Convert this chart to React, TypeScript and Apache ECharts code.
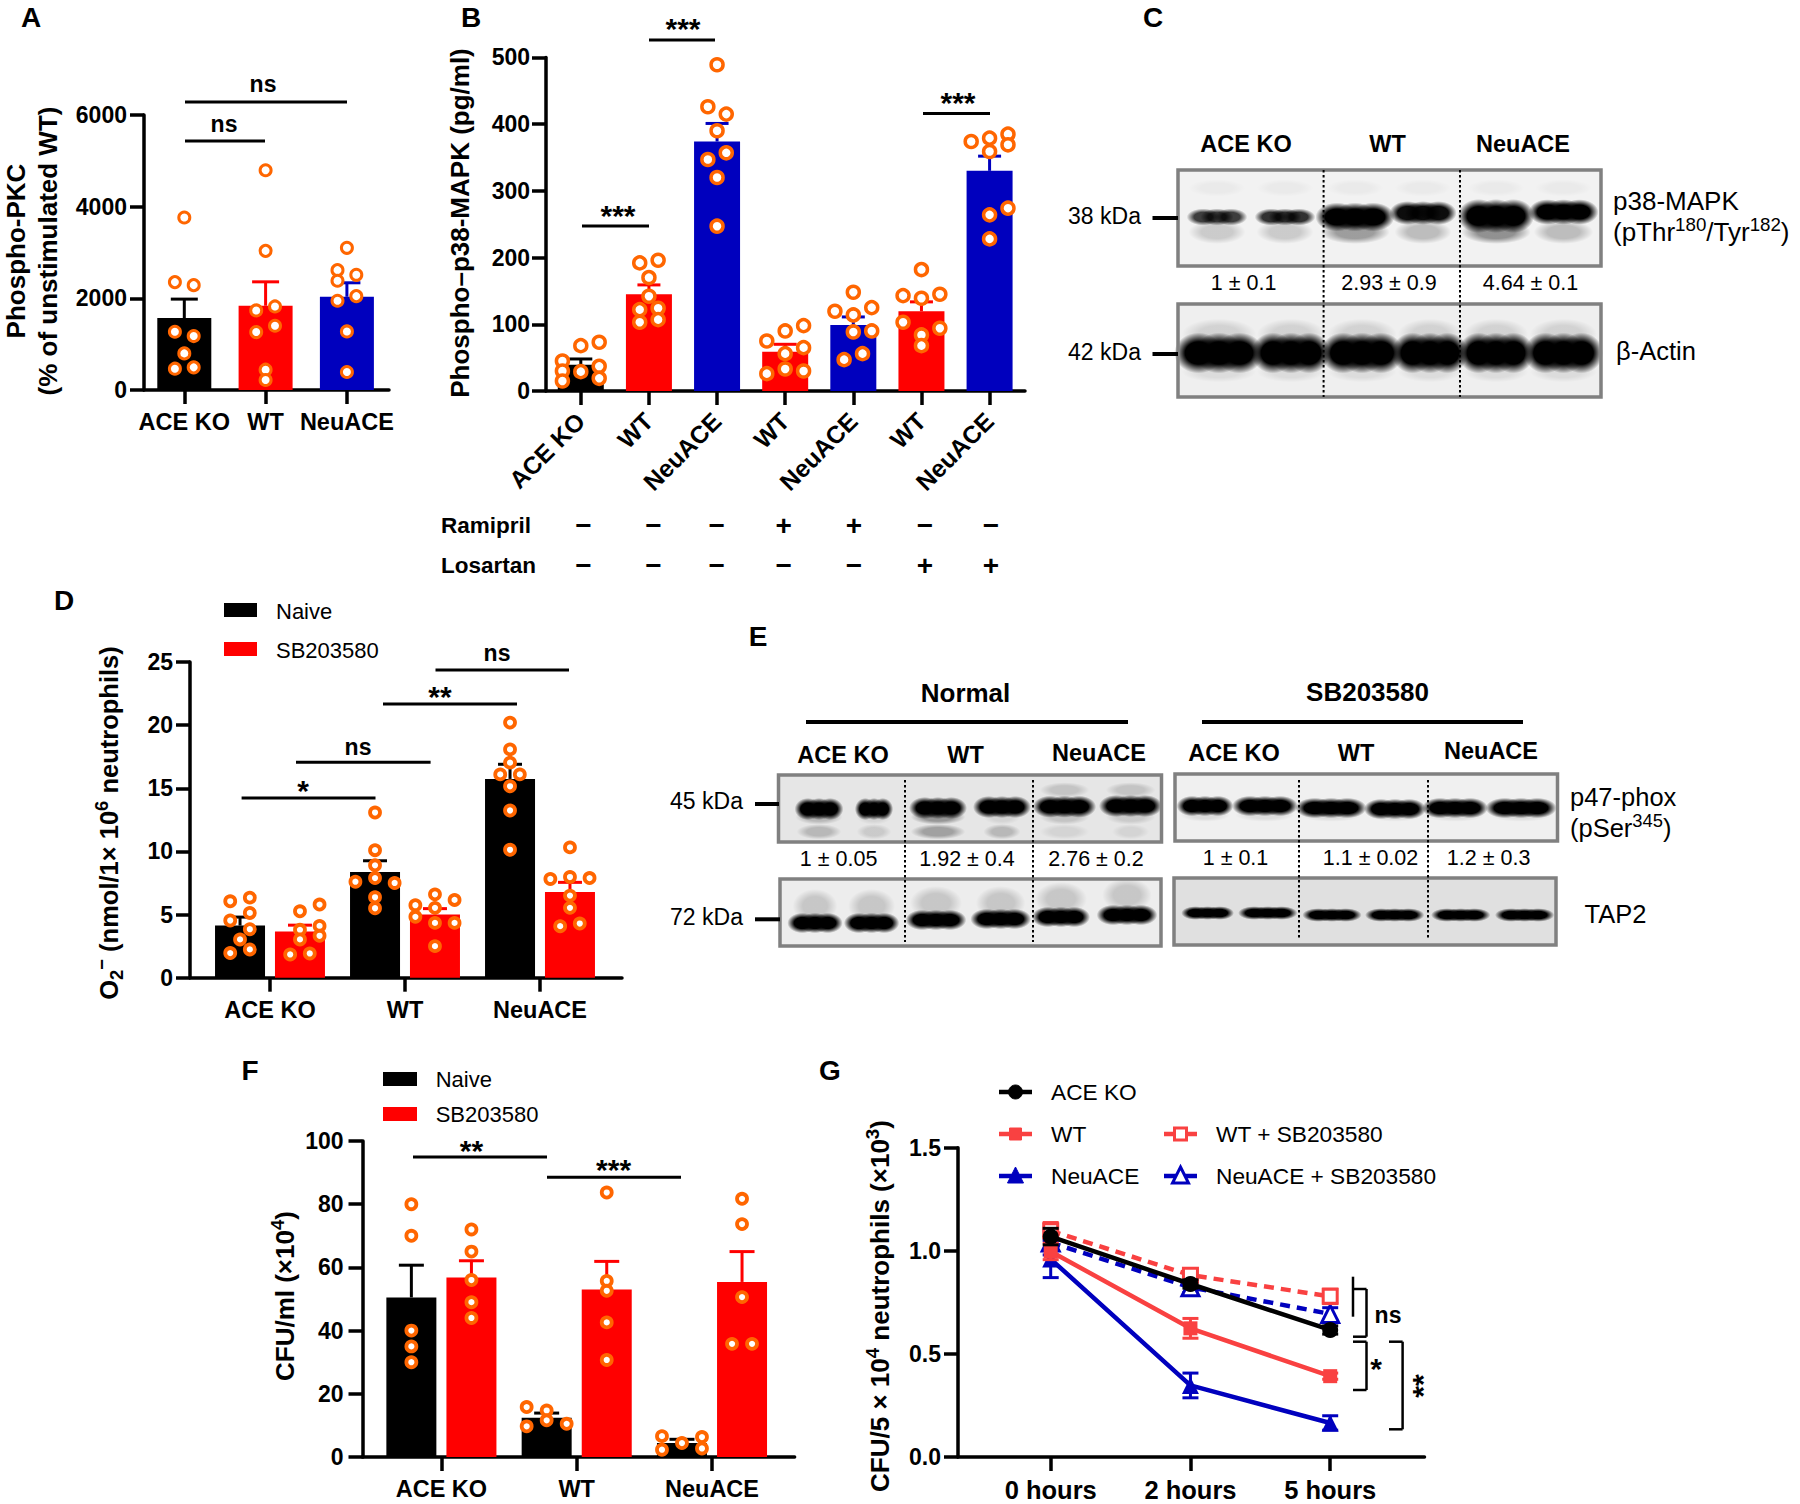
import React, { useEffect, useRef } from "react";
import * as echarts from "echarts";

const FONT = '"Liberation Sans", Arial, sans-serif';
const BLACK = "#000000";
const RED = "#FF0000";
const BLUE = "#0000BE";
const ORANGE = "#FF6600";
const CORAL = "#F94141";

const genotypes = ["ACE KO", "WT", "NeuACE"];

// Panel A
const aMeans = [1569, 1838, 2034];
const aTops = [1983, 2360, 2339];
const aPoints = [
  [3763, 2354, 2288, 1271, 1177, 799, 465, 494],
  [4794, 3036, 1736, 1823, 1402, 1264, 443, 218],
  [3102, 2615, 2513, 2383, 2048, 1947, 1278, 392],
];
const aLanes = [
  [0, -1, 1, -1, 1, 0, -1, 1],
  [0, 0, -1, 1, 1, -1, 0, 0],
  [0, -1, 1, -1, 1, -1, 0, 0],
];

// Panel B
const bCategories = ["ACE KO", "WT", "NeuACE", "WT", "NeuACE", "WT", "NeuACE"];
const bMeans = [39.5, 145, 374, 59, 99, 119.5, 330];
const bTops = [48, 159, 401, 70, 111, 133.6, 352];
const bPoints = [
  [68, 73, 45, 30, 15, 29, 37, 19],
  [196, 192, 170, 142, 122, 124, 103, 107],
  [489, 426, 415, 390, 357, 347, 320, 247],
  [75, 90, 98, 65, 56, 33, 30, 26],
  [148, 119.5, 125, 114, 88.5, 90, 56, 47],
  [182, 143, 139, 145, 103, 94, 84, 68],
  [385, 379, 374, 369, 359, 274, 264, 228],
];
const bLanes = [
  [0, 2, -2, -2, -2, 0, 2, 2],
  [1, -1, 0, 0, -1, 1, -1, 1],
  [0, -1, 1, 0, 1, -1, 0, 0],
  [-2, 0, 2, 2, 0, 0, 2, -2],
  [0, -2, 2, 0, 0, 2, 1, -1],
  [0, -2, 0, 2, -2, 2, 0, 0],
  [2, 0, -2, 2, 0, 2, 0, 0],
];
const ramipril = ["−", "−", "−", "+", "+", "−", "−"];
const losartan = ["−", "−", "−", "−", "−", "+", "+"];

// Panel D
const dMeans = [4.13, 3.66, 8.37, 5.0, 15.74, 6.79];
const dTops = [4.8, 4.16, 9.26, 5.47, 16.9, 7.55];
const dPoints = [
  [6.05, 6.34, 5.13, 4.53, 3.84, 3.03, 2.24, 1.95],
  [5.79, 5.26, 4.1, 3.79, 3.32, 3.03, 1.92, 1.84],
  [13.08, 10.1, 8.9, 7.89, 7.6, 7.5, 6.37, 5.5],
  [6.6, 6.16, 5.74, 5.53, 4.82, 4.34, 4.34, 2.5],
  [20.2, 18.08, 17.03, 16.1, 16.1, 15.16, 13.24, 10.13],
  [10.32, 7.82, 7.97, 7.89, 6.5, 5.53, 4.08, 4.29],
];
const dLanes = [
  [-1, 1, 1, -1, 1, 0, 1, -1],
  [2, 0, 2, 0, 2, 0, 1, -1],
  [0, 0, 0, 0, -2, 2, 0, 0],
  [0, 2, -2, 0, -2, 0, 2, 0],
  [0, 0, 0, -1, 1, 0, 0, 0],
  [0, -2, 0, 2, 0, 0, -1, 1],
];

// Panel F
const fMeans = [50.5, 56.8, 12.4, 53, 4.4, 55.4];
const fTops = [60.7, 62.1, 13.9, 61.9, 5.6, 65];
const fPoints = [
  [80, 70, 40, 35, 30],
  [72, 65, 56, 49, 44],
  [15.8, 14.7, 11.6, 9.7, 10.5],
  [83.7, 55.7, 52.6, 42.6, 30.7],
  [6.6, 6.3, 4.4, 2.3, 2.7],
  [81.7, 73.7, 50.6, 35.8, 35.8],
];
const fLanes = [
  [0, 0, 0, 0, 0],
  [0, 0, 0, 0, 0],
  [-2, 0, 0, -2, 2],
  [0, 0, 0, 0, 0],
  [-2, 2, 0, -2, 2],
  [0, 0, 0, -1, 1],
];

// Panel G
const hours = ["0 hours", "2 hours", "5 hours"];
const gWtSb = [1.097, 0.882, 0.779];
const gWtSbErr = [0.04, 0.03, 0.035];
const gNeuSb = [1.04, 0.823, 0.694];
const gNeuSbErr = [0.06, 0.025, 0.03];
const gWt = [0.997, 0.624, 0.392];
const gWtErr = [0.04, 0.048, 0.015];
const gNeu = [0.96, 0.347, 0.165];
const gNeuErr = [0.09, 0.06, 0.035];
const gAce = [1.069, 0.839, 0.616];
const gAceErr = [0.04, 0.02, 0.02];

const option: any = { animation: false, grid: [], xAxis: [], yAxis: [], series: [], graphic: { elements: [] } };
const els: any[] = option.graphic.elements;

function addAxes(c: any) {
  const idx = option.grid.length;
  option.grid.push({ left: c.L, top: c.T, width: c.R - c.L, height: c.B - c.T });
  const ticks = c.labels.map((_: string, i: number) => i);
  option.xAxis.push({
    type: "value",
    gridIndex: idx,
    min: (c.L - c.c0) / c.step,
    max: (c.R - c.c0) / c.step,
    splitLine: { show: false },
    axisLine: { show: true, onZero: false, lineStyle: { color: "#000", width: 3.5 } },
    axisTick: { show: true, customValues: ticks, length: 14, lineStyle: { color: "#000", width: 3.5 } },
    axisLabel: {
      show: true,
      customValues: ticks,
      formatter: (v: number) => c.labels[Math.round(v)],
      margin: c.xMargin ?? 20,
      rotate: c.rotate ?? 0,
      fontFamily: FONT,
      fontWeight: "bold",
      fontSize: c.xSize ?? 23.5,
      color: "#000",
    },
  });
  option.yAxis.push({
    type: "value",
    gridIndex: idx,
    min: 0,
    max: c.yMax,
    interval: c.yStep,
    splitLine: { show: false },
    axisLine: { show: true, onZero: false, lineStyle: { color: "#000", width: 3.5 } },
    axisTick: { show: true, length: 14, lineStyle: { color: "#000", width: 3.5 } },
    axisLabel: {
      margin: c.yMargin ?? 17,
      fontFamily: FONT,
      fontWeight: "bold",
      fontSize: 23,
      color: "#000",
      formatter: c.yFormat ?? ((v: number) => String(v)),
    },
  });
  return idx;
}

function errSeries(idx: number, rows: number[][], colors: string[], cap: number, z: number, width = 3) {
  return {
    type: "custom",
    xAxisIndex: idx,
    yAxisIndex: idx,
    z,
    clip: false,
    data: rows,
    encode: { x: 0, y: [1, 2] },
    renderItem: (p: any, api: any) => {
      const [x, yHi] = api.coord([api.value(0), api.value(1)]);
      const [, yLo] = api.coord([api.value(0), api.value(2)]);
      const stroke = colors[p.dataIndex];
      const style = { stroke, lineWidth: width, fill: "none" };
      const kids: any[] = [
        { type: "line", shape: { x1: x, y1: yHi, x2: x, y2: yLo }, style },
        { type: "line", shape: { x1: x - cap / 2, y1: yHi, x2: x + cap / 2, y2: yHi }, style },
      ];
      if (api.value(3)) kids.push({ type: "line", shape: { x1: x - cap / 2, y1: yLo, x2: x + cap / 2, y2: yLo }, style });
      return { type: "group", children: kids };
    },
  };
}

function barPanel(c: any) {
  const idx = addAxes(c);
  option.series.push({
    type: "bar",
    xAxisIndex: idx,
    yAxisIndex: idx,
    barWidth: c.barW,
    z: 2,
    data: c.means.map((m: number, i: number) => ({ value: [c.pos[i], m], itemStyle: { color: c.colors[i] } })),
  });
  option.series.push(
    errSeries(idx, c.means.map((m: number, i: number) => [c.pos[i], c.tops[i], m, 0]), c.colors, c.cap, 3)
  );
  const pts: number[][] = [];
  c.points.forEach((vals: number[], i: number) =>
    vals.forEach((v, j) => pts.push([c.pos[i] + (c.lanes[i][j] * c.lane) / c.step, v]))
  );
  option.series.push({
    type: "scatter",
    xAxisIndex: idx,
    yAxisIndex: idx,
    z: 4,
    symbol: "circle",
    symbolSize: c.ptSize,
    itemStyle: { color: "#fff", borderColor: ORANGE, borderWidth: c.ptBorder, opacity: 1 },
    data: pts,
  });
}

const rot90 = Math.PI / 2;

function T(x: number, y: number, text: string, o: any = {}) {
  els.push({
    type: "text",
    x,
    y,
    rotation: o.rot || 0,
    silent: true,
    z: 100,
    style: {
      text,
      fill: "#000",
      fontFamily: FONT,
      fontSize: o.size || 23,
      fontWeight: o.bold ? "bold" : "normal",
      textAlign: o.align || "center",
      textVerticalAlign: "middle",
      verticalAlign: "middle",
      rich: o.rich,
    },
  });
}
function richSet(size: number, bold: boolean) {
  const w = bold ? "bold" : "normal";
  const base = { fontFamily: FONT, fontWeight: w, fill: "#000" };
  return {
    a: { ...base, fontSize: size, color: "#000" },
    sup: { ...base, fontSize: size * 0.72, color: "#000", verticalAlign: "top", lineHeight: size * 1.3 },
    sub: { ...base, fontSize: size * 0.72, color: "#000", verticalAlign: "bottom", lineHeight: size * 1.3 },
  };
}
function L(x1: number, y1: number, x2: number, y2: number, w = 3, o: any = {}) {
  els.push({
    type: "line",
    silent: true,
    z: o.z ?? 100,
    shape: { x1, y1, x2, y2 },
    style: { stroke: o.color || "#000", lineWidth: w, lineDash: o.dash },
  });
}
function R(x: number, y: number, w: number, h: number, fill: string) {
  els.push({ type: "rect", silent: true, z: 100, shape: { x, y, width: w, height: h }, style: { fill } });
}
function stars(x: number, y: number, s: string, o: any = {}) {
  T(x, y, s, { bold: true, size: 30, ...o });
}

// ---- charts ----
barPanel({
  L: 144, R: 389, T: 115, B: 390, c0: 184.3, step: 81.3, labels: genotypes, yMax: 6000, yStep: 2000,
  means: aMeans, tops: aTops, points: aPoints, lanes: aLanes, lane: 9.4, pos: [0, 1, 2],
  colors: [BLACK, RED, BLUE], barW: 54, cap: 27, ptSize: 11, ptBorder: 3,
});
barPanel({
  L: 546, R: 1025, T: 57.4, B: 391, c0: 580.8, step: 68.13, labels: bCategories, yMax: 500, yStep: 100,
  means: bMeans, tops: bTops, points: bPoints, lanes: bLanes, lane: 9.2, pos: [0, 1, 2, 3, 4, 5, 6],
  colors: [BLACK, RED, BLUE, RED, BLUE, RED, BLUE], barW: 46, cap: 23, ptSize: 12, ptBorder: 3.5,
  rotate: 45, xMargin: 26, yMargin: 16, xSize: 24.5,
});
const twoPos = [-0.222, 0.222, 0.778, 1.222, 1.778, 2.222];
const twoCol = [BLACK, RED, BLACK, RED, BLACK, RED];
barPanel({
  L: 190, R: 622, T: 662, B: 977.7, c0: 270, step: 135, labels: genotypes, yMax: 25, yStep: 5,
  means: dMeans, tops: dTops, points: dPoints, lanes: dLanes, lane: 9.8, pos: twoPos,
  colors: twoCol, barW: 50, cap: 24, ptSize: 10, ptBorder: 3.8,
});
barPanel({
  L: 362.5, R: 794.6, T: 1141, B: 1457, c0: 441.4, step: 135.3, labels: genotypes, yMax: 100, yStep: 20,
  means: fMeans, tops: fTops, points: fPoints, lanes: fLanes, lane: 10, pos: twoPos,
  colors: twoCol, barW: 50, cap: 25, ptSize: 10, ptBorder: 3.8, yMargin: 19,
});

// Panel G
{
  const g = addAxes({
    L: 958, R: 1424.5, T: 1147.7, B: 1457, c0: 1050.7, step: 139.75, labels: hours, yMax: 1.5, yStep: 0.5,
    xSize: 25.5, yFormat: (v: number) => v.toFixed(1),
  });
  const lines = [
    { vals: gNeuSb, errs: gNeuSbErr, color: BLUE, dash: [10, 7], symbol: "triangle", size: 17, hollow: true },
    { vals: gWtSb, errs: gWtSbErr, color: CORAL, dash: [10, 7], symbol: "rect", size: 14, hollow: true },
    { vals: gNeu, errs: gNeuErr, color: BLUE, symbol: "triangle", size: 17 },
    { vals: gWt, errs: gWtErr, color: CORAL, symbol: "rect", size: 14 },
    { vals: gAce, errs: gAceErr, color: BLACK, symbol: "circle", size: 16 },
  ];
  lines.forEach((s: any, i: number) => {
    option.series.push(
      errSeries(g, s.vals.map((v: number, k: number) => [k, v + s.errs[k], v - s.errs[k], 1]), [s.color, s.color, s.color], 16, 3 + i * 2)
    );
    option.series.push({
      type: "line",
      xAxisIndex: g,
      yAxisIndex: g,
      z: 4 + i * 2,
      symbol: s.symbol,
      symbolSize: s.size,
      showSymbol: true,
      lineStyle: { color: s.color, width: 4.5, type: s.dash || "solid" },
      itemStyle: s.hollow
        ? { color: "#fff", borderColor: s.color, borderWidth: 3 }
        : { color: s.color, borderColor: s.color, borderWidth: 0 },
      data: s.vals.map((v: number, k: number) => [k, v]),
    });
  });
}

// ---- panel letters ----
T(31, 17, "A", { bold: true, size: 28 });
T(471, 17, "B", { bold: true, size: 28 });
T(1153, 17, "C", { bold: true, size: 28 });
T(64, 600, "D", { bold: true, size: 28 });
T(758, 636, "E", { bold: true, size: 28 });
T(250, 1070, "F", { bold: true, size: 28 });
T(830, 1070, "G", { bold: true, size: 28 });

// ---- panel A annotations ----
T(16, 251, "Phospho-PKC", { bold: true, size: 26, rot: rot90 });
T(48, 251, "(% of unstimulated WT)", { bold: true, size: 26, rot: rot90 });
L(185, 102, 347, 102);
T(263, 84, "ns", { bold: true });
L(185, 141, 265, 141);
T(224, 124, "ns", { bold: true });

// ---- panel B annotations ----
T(460, 223, "Phospho–p38-MAPK (pg/ml)", { bold: true, size: 26, rot: rot90 });
L(582, 226, 649, 226);
stars(618, 215, "***");
L(649, 40, 715, 40);
stars(683, 28, "***");
L(923, 113.5, 990, 113.5);
stars(958, 102, "***");
T(441, 525, "Ramipril", { bold: true, size: 22.5, align: "left" });
T(441, 565, "Losartan", { bold: true, size: 22.5, align: "left" });
const signX = [583.5, 653.5, 716.7, 783.7, 854, 925, 991];
signX.forEach((x, i) => {
  T(x, 525, ramipril[i], { bold: true, size: 28 });
  T(x, 565, losartan[i], { bold: true, size: 28 });
});

// ---- panel D annotations ----
T(109, 823, "{a|O}{sub|2}{sup|−}{a| (nmol/1× 10}{sup|6}{a| neutrophils)}", {
  rot: rot90, bold: true, size: 25.5, rich: richSet(25.5, true),
});
R(224, 603, 33, 14, BLACK);
R(224, 642, 33, 14, RED);
T(276, 611, "Naive", { size: 22, align: "left" });
T(276, 650, "SB203580", { size: 22, align: "left" });
L(241.6, 798, 375.5, 798);
stars(303, 790, "*");
L(296, 762.3, 430.6, 762.3);
T(358, 747, "ns", { bold: true });
L(383, 704, 517, 704);
stars(440, 696, "**");
L(435.5, 670, 569, 670);
T(497, 653, "ns", { bold: true });

// ---- panel F annotations ----
T(285, 1296, "{a|CFU/ml (×10}{sup|4}{a|)}", { rot: rot90, bold: true, size: 26, rich: richSet(26, true) });
R(383, 1072, 34, 14, BLACK);
R(383, 1107, 34, 14, RED);
T(435.7, 1079, "Naive", { size: 22, align: "left" });
T(435.7, 1114, "SB203580", { size: 22, align: "left" });
L(413, 1157, 547, 1157);
stars(471.4, 1150, "**");
L(547, 1177.3, 681, 1177.3);
stars(613.6, 1169, "***");

// ---- panel G annotations ----
T(880, 1306, "{a|CFU/5 × 10}{sup|4}{a| neutrophils (×10}{sup|3}{a|)}", {
  rot: rot90, bold: true, size: 26, rich: richSet(26, true),
});
const legendG = [
  { x: 999, y: 1092, t: "ACE KO", c: BLACK, kind: "circle" },
  { x: 999, y: 1134, t: "WT", c: CORAL, kind: "rect" },
  { x: 999, y: 1176, t: "NeuACE", c: BLUE, kind: "tri" },
  { x: 1164, y: 1134, t: "WT + SB203580", c: CORAL, kind: "rect", hollow: true },
  { x: 1164, y: 1176, t: "NeuACE + SB203580", c: BLUE, kind: "tri", hollow: true },
];
legendG.forEach((e) => {
  L(e.x, e.y, e.x + 33, e.y, 4.5, { color: e.c });
  const cx = e.x + 16.5;
  const style = e.hollow
    ? { fill: "#fff", stroke: e.c, lineWidth: 3 }
    : { fill: e.c, stroke: e.c, lineWidth: 1 };
  if (e.kind === "circle") els.push({ type: "circle", z: 101, silent: true, shape: { cx, cy: e.y, r: 7 }, style });
  if (e.kind === "rect") els.push({ type: "rect", z: 101, silent: true, shape: { x: cx - 6, y: e.y - 6, width: 12, height: 12 }, style });
  if (e.kind === "tri")
    els.push({
      type: "polygon", z: 101, silent: true,
      shape: { points: [[cx, e.y - 9], [cx + 8, e.y + 7], [cx - 8, e.y + 7]] }, style,
    });
  T(e.x + 52, e.y, e.t, { size: 22.7, align: "left" });
});
// brackets
L(1353, 1276.7, 1353, 1316.7, 2.5);
L(1353, 1289, 1366.5, 1289, 2.5);
L(1366.5, 1289, 1366.5, 1336.7, 2.5);
L(1353, 1336.7, 1366.5, 1336.7, 2.5);
T(1388, 1315, "ns", { bold: true });
L(1353, 1341.7, 1366.5, 1341.7, 2.5);
L(1366.5, 1341.7, 1366.5, 1390, 2.5);
L(1353, 1390, 1366.5, 1390, 2.5);
stars(1376, 1368, "*");
L(1389, 1341.7, 1402.6, 1341.7, 2.5);
L(1402.6, 1341.7, 1402.6, 1429.3, 2.5);
L(1389, 1429.3, 1402.6, 1429.3, 2.5);
stars(1422, 1386, "**", { rot: rot90 });

// ---- blots ----
type Band = [number, number, number, number, number];
function softEllipse(cx: number, cy: number, rx: number, ry: number, a: number) {
  const on = `rgba(0,0,0,${a})`;
  const mid = `rgba(0,0,0,${a * 0.45})`;
  els.push({
    type: "ellipse",
    silent: true,
    z: 100,
    shape: { cx, cy, rx, ry },
    style: {
      fill: {
        type: "radial", x: 0.5, y: 0.5, r: 0.5,
        colorStops: [
          { offset: 0, color: on },
          { offset: 0.55, color: on },
          { offset: 0.8, color: mid },
          { offset: 1, color: "rgba(0,0,0,0)" },
        ],
      },
    },
  });
}
function band([cx, cy, w, h, a]: Band) {
  if (a >= 0.7) {
    // flat-topped band: several overlapping blobs side by side
    [-0.3, 0, 0.3].forEach((k) => softEllipse(cx + k * w, cy, w * 0.36, h * 0.85, a));
  } else {
    softEllipse(cx, cy, w * 0.62, h * 0.85, a);
  }
}
function blot(x: number, y: number, w: number, h: number, bg: string, bands: Band[]) {
  R(x, y, w, h, bg);
  bands.forEach(band);
  els.push({
    type: "rect", silent: true, z: 100, shape: { x, y, width: w, height: h },
    style: { fill: "none", stroke: "#808080", lineWidth: 3.5 },
  });
}
function row(
  xs: number[],
  ys: number[] | number,
  ws: number[] | number,
  hs: number[] | number,
  a: number[] | number
): Band[] {
  return xs.map((x, i) => [
    x,
    Array.isArray(ys) ? ys[i] : ys,
    Array.isArray(ws) ? ws[i] : ws,
    Array.isArray(hs) ? hs[i] : hs,
    Array.isArray(a) ? a[i] : a,
  ]);
}
const cTopX = [1217, 1285, 1355, 1423, 1496, 1563.5];
blot(1178, 170, 423, 96, "#f2f2f2", [
  ...row(cTopX, 188, 46, 10, 0.035),
  ...row(cTopX, 232, [46, 46, 56, 46, 56, 48], 14, [0.16, 0.16, 0.35, 0.22, 0.4, 0.22]),
  ...row(cTopX, [217, 217, 217, 213, 216, 212], [46, 46, 60, 51, 58, 53], [10, 10, 17, 14, 20, 15], [0.75, 0.8, 1, 0.95, 1, 1]),
]);
const cBotX = [1219, 1291, 1362, 1430, 1496, 1563.5];
blot(1178, 304, 423, 93, "#efefef", [
  ...row(cBotX, 334, [60, 55, 56, 52, 52, 54], 18, 0.12),
  ...row(cBotX, 372, [60, 55, 56, 52, 52, 54], 12, 0.08),
  ...row(cBotX, 353, [68, 60, 63, 58, 58, 60], 24, 1),
]);
[1323.6, 1460].forEach((x) => L(x, 170, x, 397, 2, { dash: [2.5, 2.5] }));
T(1246, 144, "ACE KO", { bold: true, size: 23.5 });
T(1387.5, 144, "WT", { bold: true, size: 23.5 });
T(1523, 144, "NeuACE", { bold: true, size: 23.5 });
T(1104.5, 216, "38 kDa", { size: 23 });
T(1104.5, 352, "42 kDa", { size: 23 });
L(1152.5, 218, 1178, 218, 4);
L(1152.5, 354, 1178, 354, 4);
T(1243.6, 283, "1 ± 0.1", { size: 21.5 });
T(1389, 283, "2.93 ± 0.9", { size: 21.5 });
T(1530.5, 283, "4.64 ± 0.1", { size: 21.5 });
T(1613, 201, "p38-MAPK", { size: 26, align: "left" });
T(1613, 232, "{a|(pThr}{sup|180}{a|/Tyr}{sup|182}{a|)}", { size: 26, align: "left", rich: richSet(26, false) });
T(1616, 350.7, "β-Actin", { size: 25.5, align: "left" });

// E
const eLtX = [819, 874, 938, 1002, 1064.5, 1130.6];
blot(778.5, 775, 383, 67, "#e6e6e6", [
  ...row(eLtX, 831.7, [36, 28, 44, 30, 40, 30], 9, [0.2, 0.12, 0.3, 0.2, 0.08, 0.08]),
  ...row(eLtX, 790, 40, 9, [0, 0, 0, 0, 0.15, 0.15]),
  ...row(eLtX, 817, [38, 28, 44, 30, 40, 40], 9, [0.2, 0.08, 0.35, 0.08, 0.15, 0.12]),
  ...row(eLtX, [809, 809, 808, 807, 806.7, 806], [37, 29, 44, 44, 48, 48], 13, 1),
]);
const eRtX = [1205, 1265, 1331, 1395, 1455, 1521];
blot(1175, 774, 382.5, 67, "#f0f0f0", [
  ...row(eRtX, 815, [40, 48, 50, 44, 48, 50], 8, 0.08),
  ...row(eRtX, [806, 806, 808, 809, 808, 808], [43, 50, 54, 47, 50, 54], 12, 1),
]);
const eLbX = [815, 871.6, 936, 1000.7, 1061, 1127];
blot(780, 879, 381, 67, "#ededed", [
  ...row(eLbX, [906, 906, 903, 903, 899, 895], [36, 38, 42, 40, 42, 40], 20, 0.16),
  ...row(eLbX, [923, 923, 920, 919, 917, 915], [42, 42, 46, 46, 44, 46], 12, 1),
]);
const eRbX = [1207.6, 1267.8, 1332, 1394.7, 1460.7, 1524.6];
blot(1174, 878, 382, 67, "#e0e0e0", row(eRbX, [913, 913, 915, 915, 915, 915], [40, 45, 45, 45, 45, 45], 8, 1));
[905, 1033].forEach((x) => L(x, 780, x, 942, 2, { dash: [2.5, 2.5] }));
[1299, 1428].forEach((x) => L(x, 780, x, 940, 2, { dash: [2.5, 2.5] }));
L(806, 722, 1128, 722, 4);
L(1202, 722, 1523, 722, 4);
T(965.5, 693, "Normal", { bold: true, size: 26 });
T(1367.5, 692, "SB203580", { bold: true, size: 26 });
T(843, 755, "ACE KO", { bold: true, size: 23.5 });
T(965.5, 755, "WT", { bold: true, size: 23.5 });
T(1099, 752.7, "NeuACE", { bold: true, size: 23.5 });
T(1234, 752.7, "ACE KO", { bold: true, size: 23.5 });
T(1356, 752.7, "WT", { bold: true, size: 23.5 });
T(1491, 750.7, "NeuACE", { bold: true, size: 23.5 });
T(706.5, 800.7, "45 kDa", { size: 23 });
T(706.5, 916.7, "72 kDa", { size: 23 });
L(755, 804, 779, 804, 4);
L(755, 919.3, 780, 919.3, 4);
T(838.6, 859, "1 ± 0.05", { size: 21.5 });
T(967, 859, "1.92 ± 0.4", { size: 21.5 });
T(1096, 859, "2.76 ± 0.2", { size: 21.5 });
T(1235.5, 858, "1 ± 0.1", { size: 21.5 });
T(1370.5, 858, "1.1 ± 0.02", { size: 21.5 });
T(1488.6, 858, "1.2 ± 0.3", { size: 21.5 });
T(1570, 797, "p47-phox", { size: 25.5, align: "left" });
T(1570, 828, "{a|(pSer}{sup|345}{a|)}", { size: 25.5, align: "left", rich: richSet(25.5, false) });
T(1584.5, 914, "TAP2", { size: 25.5, align: "left" });

export default function App() {
  const ref = useRef<HTMLDivElement>(null);
  useEffect(() => {
    const chart = echarts.init(ref.current!, undefined, { renderer: "svg", width: 1800, height: 1504 });
    chart.setOption(option);
    return () => chart.dispose();
  }, []);
  return <div ref={ref} style={{ position: "absolute", left: 0, top: 0, width: 1800, height: 1504, background: "#fff" }} />;
}
